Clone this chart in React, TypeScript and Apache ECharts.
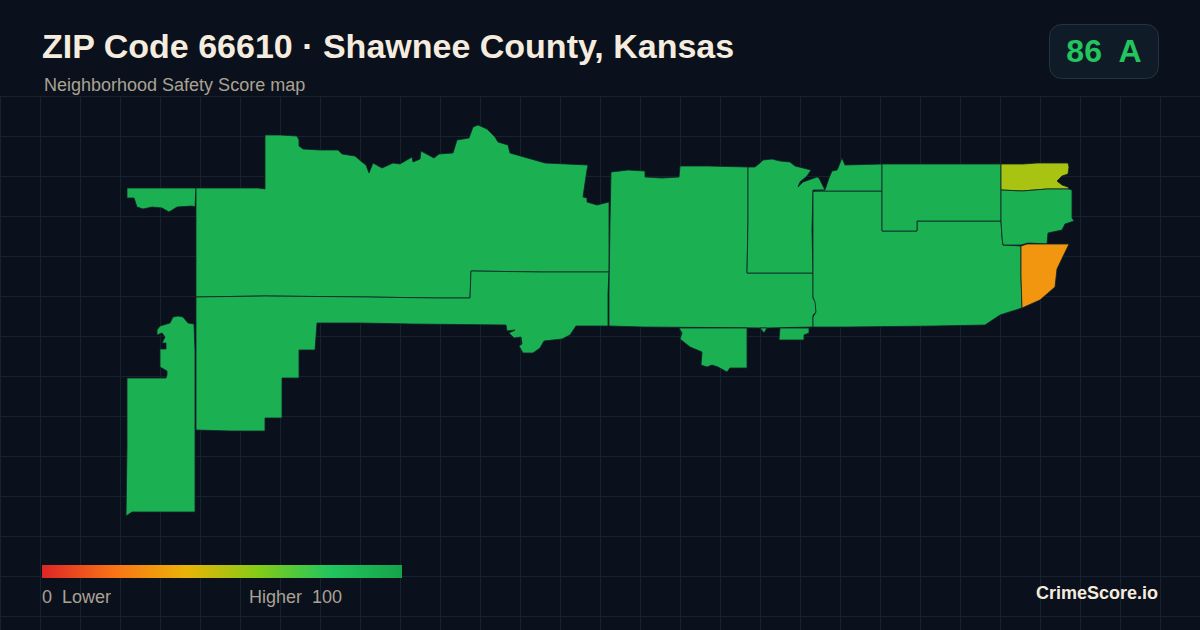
import React, { useEffect, useRef } from "react";
import * as echarts from "echarts";

type Pt = number[];

const title = "ZIP Code 66610 · Shawnee County, Kansas";
const subtitle = "Neighborhood Safety Score map";
const scoreText = "86  A";
const brand = "CrimeScore.io";
const legendLow = "0  Lower";
const legendHigh = "Higher  100";
const scaleColors = ["#dc2626", "#f97316", "#eab308", "#84cc16", "#22c55e", "#16a34a"];

const regionNames = ["w-strip", "north-west", "south-west", "central", "south-lobes", "north-central", "east-main", "north-creek", "north-east", "corner-north", "corner-mid", "corner-south"];
const regionScores = [92, 92, 92, 92, 92, 92, 92, 92, 92, 53, 92, 31];

const wStripTop: Pt[] = [[127,188],[196,188],[195,207],[192,206],[177,207],[169,212],[162,208],[152,207],[143,209],[137,207],[134,198],[127,198]];
const wStripBottom: Pt[] = [[178,316],[173,317],[170,323],[160,326],[157,330],[157,335],[162,333],[165,337],[162,343],[166,343],[166,349],[160,349],[160,367],[167,371],[167,375],[166,378],[127,378],[127,447],[126,516],[132,512],[195,512],[195,350],[194,324],[188,323],[183,317]];
const northWest: Pt[] = [[196,188],[258,188],[265,189],[265,135],[280,135],[297,136],[299,140],[299,146],[303,149],[320,150],[338,150],[342,154],[355,156],[362,162],[366,165],[369,173],[373,163],[382,168],[393,163],[400,164],[412,157],[413,162],[420,159],[421,151],[434,158],[439,154],[453,153],[457,140],[469,138],[473,127],[478,125],[487,129],[495,137],[498,142],[508,145],[510,153],[545,163],[588,165],[587,170],[585,183],[583,197],[587,198],[587,202],[597,205],[609,202],[609,223],[609,272],[541,272],[471,271],[470,298],[436,298],[368,297],[265,296],[196,297]];
const southWest: Pt[] = [[196,297],[265,296],[368,297],[436,298],[470,298],[471,271],[541,272],[609,272],[608,293],[608,326],[576,326],[570,335],[562,339],[544,341],[540,348],[533,353],[523,353],[519,346],[522,344],[521,337],[514,338],[509,333],[515,330],[507,331],[506,325],[412,324],[360,323],[317,323],[315,350],[299,350],[299,378],[282,378],[282,418],[265,418],[265,431],[231,431],[196,430]];
const central: Pt[] = [[611,172],[628,170],[645,171],[645,177],[662,178],[679,177],[680,166],[708,166],[748,167],[748,220],[747,273],[813,273],[813,298],[816,303],[816,312],[813,315],[813,327],[767,328],[643,327],[609,326],[609,292],[610,222]];
const lobeA: Pt[] = [[679,328],[682,333],[680,339],[690,347],[702,352],[701,365],[707,367],[712,365],[718,367],[727,372],[730,368],[747,368],[747,328]];
const lobeB: Pt[] = [[760,328],[764,333],[767,328]];
const lobeC: Pt[] = [[780,328],[779,340],[804,340],[804,335],[809,333],[809,328]];
const northCentral: Pt[] = [[748,167],[755,167],[760,163],[763,160],[772,159],[780,161],[790,162],[795,166],[811,170],[807,176],[800,182],[798,187],[803,182],[817,177],[819,178],[825,190],[813,190],[812,230],[813,273],[747,273],[748,220]];
const eastMain: Pt[] = [[813,191],[882,191],[882,231],[917,231],[917,221],[1001,221],[1002,237],[1003,245],[1021,246],[1021,277],[1022,308],[1000,315],[985,325],[935,326],[848,327],[813,327],[813,317],[816,312],[815,302],[813,297]];
const northCreek: Pt[] = [[825,190],[829,178],[832,171],[837,170],[838,168],[842,158],[845,165],[882,164],[882,191],[813,191]];
const northEast: Pt[] = [[882,164],[898,164],[1001,164],[1001,221],[917,221],[917,231],[882,231]];
const cornerNorth: Pt[] = [[1001,164],[1023,164],[1037,163],[1068,163],[1069,167],[1068,174],[1062,176],[1057,181],[1062,185],[1068,187],[1069,189],[1047,189],[1022,191],[1001,190]];
const cornerMid: Pt[] = [[1001,190],[1022,191],[1047,189],[1069,189],[1072,190],[1072,218],[1074,221],[1065,224],[1062,230],[1048,233],[1047,244],[1028,243],[1021,245],[1003,245],[1002,237],[1001,221]];
const cornerSouth: Pt[] = [[1021,246],[1027,244],[1069,244],[1057,269],[1055,287],[1040,300],[1022,308],[1021,277]];

const regionRings: Pt[][][] = [
  [wStripTop, wStripBottom], [northWest], [southWest], [central], [lobeA, lobeB, lobeC],
  [northCentral], [eastMain], [northCreek], [northEast], [cornerNorth], [cornerMid], [cornerSouth],
];

const BG = "#0a111c";
const GRID = "#16232f";

export default function App() {
  const ref = useRef<HTMLDivElement>(null);
  useEffect(() => {
    document.body.style.margin = "0";
    document.body.style.background = BG;
    const chart = echarts.init(ref.current!, undefined, { renderer: "svg", width: 1200, height: 630 });
    const geo = {
      type: "FeatureCollection",
      features: regionNames.map((name, i) => ({
        type: "Feature",
        properties: { name },
        geometry: { type: "MultiPolygon", coordinates: regionRings[i].map((r) => [[...r, r[0]]]) },
      })),
    };
    echarts.registerMap("zip66610", geo as any);

    const gridLines: any[] = [];
    for (let x = 0; x <= 1200; x += 40)
      gridLines.push({ type: "line", shape: { x1: x + 0.5, y1: 96, x2: x + 0.5, y2: 630 }, style: { stroke: GRID, lineWidth: 1 }, silent: true });
    for (let y = 96; y <= 630; y += 40)
      gridLines.push({ type: "line", shape: { x1: 0, y1: y + 0.5, x2: 1200, y2: y + 0.5 }, style: { stroke: GRID, lineWidth: 1 }, silent: true });

    const txt = (text: string, x: number, y: number, font: string, fill: string, align = "left") => ({
      type: "text", x, y, silent: true,
      style: { text, font, fill, textAlign: align },
    });

    chart.setOption({
      animation: false,
      backgroundColor: BG,
      visualMap: { show: false, min: 0, max: 100, seriesIndex: 0, inRange: { color: scaleColors } },
      series: [{
        type: "map",
        map: "zip66610",
        projection: { project: (p: number[]) => p, unproject: (p: number[]) => p },
        boundingCoords: [[0, 0], [1200, 630]],
        left: 0, top: 0, width: 1200, height: 630,
        roam: false, silent: true,
        label: { show: false },
        itemStyle: { borderColor: "#10222a", borderWidth: 0.8 },
        data: regionNames.map((name, i) => ({ name, value: regionScores[i] })),
      }],
      graphic: [
        ...gridLines,
        txt(title, 42, 29, "bold 34px 'Liberation Sans'", "#f5ecdf"),
        txt(subtitle, 44, 76, "18px 'Liberation Sans'", "#aaa294"),
        { type: "rect", shape: { x: 1049.5, y: 24.5, width: 109, height: 54, r: 12 }, style: { fill: "#101b28", stroke: "#263241", lineWidth: 1 }, silent: true },
        txt(scoreText, 1104, 35, "bold 32px 'Liberation Sans'", "#22c55e", "center"),
        { type: "rect", shape: { x: 42, y: 565, width: 360, height: 13 },
          style: { fill: new echarts.graphic.LinearGradient(0, 0, 1, 0, scaleColors.map((color, i) => ({ offset: i / (scaleColors.length - 1), color }))) }, silent: true },
        txt(legendLow, 42, 588, "18px 'Liberation Sans'", "#aaa294"),
        txt(legendHigh, 249, 588, "18px 'Liberation Sans'", "#aaa294"),
        txt(brand, 1158, 584, "bold 18px 'Liberation Sans'", "#f5ecdf", "right"),
      ],
    });
    return () => chart.dispose();
  }, []);
  return <div ref={ref} style={{ position: "absolute", left: 0, top: 0, width: 1200, height: 630 }} />;
}
